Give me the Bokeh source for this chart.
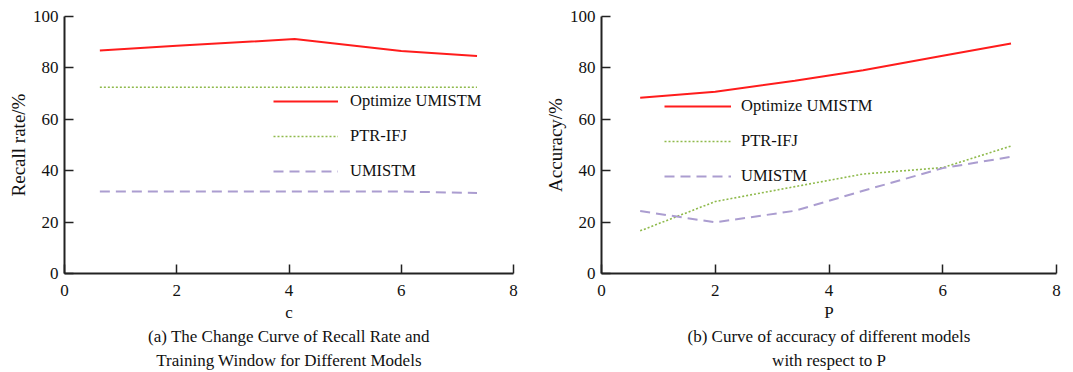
from bokeh.plotting import figure
from bokeh.layouts import row
from bokeh.models import Range1d, FixedTicker, Legend, LegendItem, Title
from bokeh.embed import file_html
from bokeh.resources import INLINE

# ---- data ----
c_vals = [0.63, 2.0, 4.1, 6.0, 7.35]
recall_opt = [86.8, 88.6, 91.2, 86.6, 84.6]
recall_ptr = [72.5, 72.5, 72.5, 72.5, 72.5]
recall_umi = [31.9, 31.9, 31.9, 31.9, 31.3]

p_vals = [0.68, 2.0, 3.4, 4.6, 6.0, 7.2]
acc_opt = [68.4, 70.7, 75.0, 79.1, 84.7, 89.5]
acc_ptr = [16.6, 28.0, 33.8, 38.7, 41.2, 49.6]
acc_umi = [24.3, 19.9, 24.4, 32.2, 41.0, 45.4]

series_names = ["Optimize UMISTM", "PTR-IFJ", "UMISTM"]
x_ticks = [0, 2, 4, 6, 8]
y_ticks = [0, 20, 40, 60, 80, 100]

FONT = "Liberation Serif"
RED = "#ff1c1c"
GREEN = "#8fba4c"
PURPLE = "#ab9dd0"


def make_panel(xs, ys_list, width, border_left, border_right, xlabel, ylabel,
               cap1, cap2, leg_loc, glyph_w, leg_standoff):
    p = figure(width=width, height=372, x_range=Range1d(0, 8), y_range=Range1d(0, 100),
               output_backend="svg", toolbar_location=None,
               min_border_left=border_left, min_border_top=16, min_border_right=border_right,
               min_border_bottom=99)
    p.outline_line_color = None
    p.xgrid.visible = False
    p.ygrid.visible = False
    p.background_fill_color = None
    p.border_fill_color = None

    r1 = p.line(xs, ys_list[0], line_color=RED, line_width=2)
    r2 = p.line(xs, ys_list[1], line_color=GREEN, line_width=1.6, line_dash="2 2")
    r3 = p.line(xs, ys_list[2], line_color=PURPLE, line_width=2, line_dash="10 6")

    for ax in (p.xaxis[0], p.yaxis[0]):
        ax.axis_line_color = "#222222"
        ax.axis_line_width = 2
        ax.major_tick_line_color = "#222222"
        ax.major_tick_line_width = 1.5
        ax.major_tick_in = 9
        ax.major_tick_out = 0
        ax.minor_tick_line_color = None
        ax.major_label_text_font = FONT
        ax.major_label_text_font_size = "17px"
        ax.major_label_text_color = "#111111"
        ax.axis_label_text_font = FONT
        ax.axis_label_text_font_style = "normal"
        ax.axis_label_text_color = "#111111"
    p.xaxis.ticker = FixedTicker(ticks=x_ticks)
    p.yaxis.ticker = FixedTicker(ticks=y_ticks)
    p.xaxis.major_label_standoff = 11
    p.yaxis.major_label_standoff = 6
    p.xaxis.axis_label = xlabel
    p.xaxis.axis_label_text_font_size = "17px"
    p.xaxis.axis_label_standoff = 4
    p.yaxis.axis_label = ylabel
    p.yaxis.axis_label_text_font_size = "19px"
    p.yaxis.axis_label_standoff = 1

    legend = Legend(items=[LegendItem(label=series_names[0], renderers=[r1]),
                           LegendItem(label=series_names[1], renderers=[r2]),
                           LegendItem(label=series_names[2], renderers=[r3])],
                    location=leg_loc)
    legend.border_line_color = None
    legend.background_fill_alpha = 0
    legend.padding = 0
    legend.margin = 0
    legend.spacing = 15
    legend.glyph_width = glyph_w
    legend.glyph_height = 20
    legend.label_height = 20
    legend.label_standoff = leg_standoff
    legend.label_text_font = FONT
    legend.label_text_font_size = "16.5px"
    legend.label_text_color = "#111111"
    p.add_layout(legend, "center")

    t1 = Title(text=cap1, align="center", text_font=FONT, text_font_size="17px",
               text_font_style="normal", text_color="#111111", standoff=1, offset=0)
    t2 = Title(text=cap2, align="center", text_font=FONT, text_font_size="17px",
               text_font_style="normal", text_color="#111111", standoff=4, offset=0)
    p.add_layout(t1, "below")
    p.add_layout(t2, "below")
    return p


left = make_panel(c_vals, [recall_opt, recall_ptr, recall_umi], 540, 64, 27, "c", "Recall rate/%",
                  "(a) The Change Curve of Recall Rate and",
                  "Training Window for Different Models", (209, 92), 65, 12)
right = make_panel(p_vals, [acc_opt, acc_ptr, acc_umi], 533, 61, 17, "P", "Accuracy/%",
                   "(b) Curve of accuracy of different models",
                   "with respect to P", (63, 87), 67, 10)

layout = row(left, right)
open("out.html", "w").write(file_html(layout, INLINE))
